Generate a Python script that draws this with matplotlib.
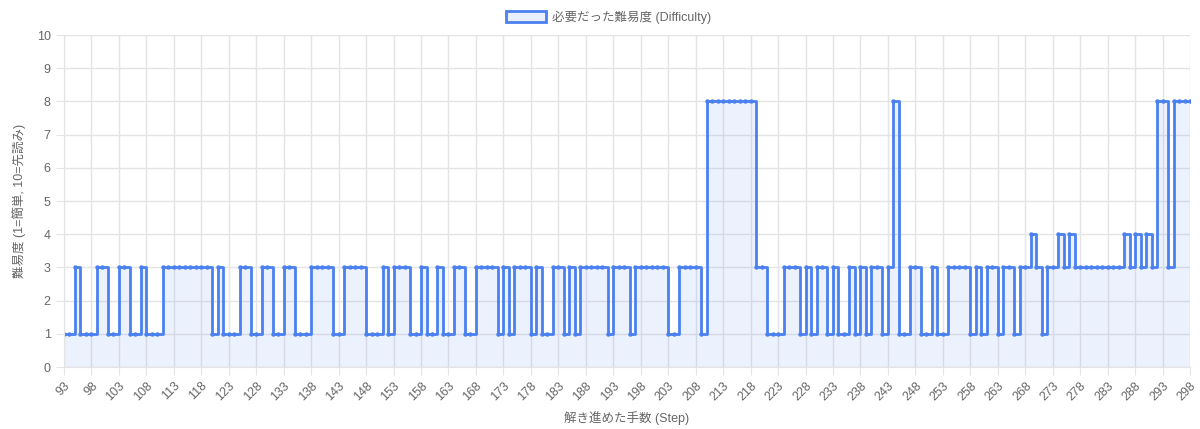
"""Stepped difficulty chart: required difficulty per solving step."""
import matplotlib

matplotlib.use("Agg")
import matplotlib.pyplot as plt
import numpy as np
from matplotlib.patches import Patch

# Latin glyphs in an Arial-like face, Japanese falls back to Noto CJK.
plt.rcParams["font.family"] = ["Liberation Sans", "Noto Sans CJK JP", "DejaVu Sans"]

# --------------------------------------------------------------------------- #
# Data
# --------------------------------------------------------------------------- #
first_step = 93
difficulty = [
    1, 1, 3, 1, 1, 1, 3, 3, 1, 1, 3, 3, 1, 1, 3, 1, 1, 1,  # 93-110
    3, 3, 3, 3, 3, 3, 3, 3, 3,  # 111-119
    1, 3, 1, 1, 1, 3, 3, 1, 1, 3, 3, 1, 1, 3, 3, 1, 1, 1,  # 120-137
    3, 3, 3, 3, 1, 1, 3, 3, 3, 3, 1, 1, 1, 3, 1, 3, 3, 3,  # 138-155
    1, 1, 3, 1, 1, 3, 1, 1, 3, 3, 1, 1, 3, 3, 3, 3, 1, 3,  # 156-173
    1, 3, 3, 3, 1, 3, 1, 1, 3, 3, 1, 3, 1, 3, 3, 3, 3, 3,  # 174-191
    1, 3, 3, 3, 1, 3, 3, 3, 3, 3, 3, 1, 1, 3, 3, 3, 3, 1,  # 192-209
    8, 8, 8, 8, 8, 8, 8, 8, 8,  # 210-218
    3, 3, 1, 1, 1, 3, 3, 3, 1, 3, 1, 3, 3, 1, 3, 1, 1, 3,  # 219-236
    1, 3, 1, 3, 3, 1, 3, 8, 1, 1, 3, 3, 1, 1, 3, 1, 1, 3,  # 237-254
    3, 3, 3, 1, 3, 1, 3, 3, 1, 3, 3, 1, 3, 3, 4, 3, 1, 3,  # 255-272
    3, 4, 3, 4, 3, 3, 3, 3, 3, 3, 3, 3, 3, 4, 3, 4, 3, 4,  # 273-290
    3, 8, 8, 3, 8, 8, 8, 8,  # 291-298
]
steps = np.arange(first_step, first_step + len(difficulty))
y_ticks = list(range(0, 11))
x_ticks = list(range(93, 299, 5))

LINE = "#4a80f0"
FILL = (0.29, 0.5, 0.94, 0.1)
GRID = "#e4e4e4"
TEXT = "#666666"

# --------------------------------------------------------------------------- #
# Plot
# --------------------------------------------------------------------------- #
fig = plt.figure(figsize=(12, 4.29), dpi=100)
ax = fig.add_axes([0.0533, 0.1445, 0.9384, 0.7739])

ax.fill_between(steps, difficulty, 0, step="post", color=FILL, linewidth=0)
ax.plot(steps, difficulty, drawstyle="steps-post", color=LINE, linewidth=2,
        marker="o", markersize=3.2, markerfacecolor=LINE, markeredgewidth=0)

ax.set_xlim(steps[0], steps[-1])
ax.set_ylim(0, 10)
ax.set_yticks(y_ticks)
ax.set_xticks(x_ticks)
ax.set_xticklabels([str(t) for t in x_ticks], rotation=45, ha="right",
                   rotation_mode="anchor")
ax.tick_params(axis="both", colors=GRID, labelcolor=TEXT, labelsize=9, length=6)
ax.tick_params(axis="x", pad=3)
ax.grid(True, color=GRID, linewidth=1)
ax.set_axisbelow(True)
for side in ("top", "right"):
    ax.spines[side].set_visible(False)
for side in ("left", "bottom"):
    ax.spines[side].set_color(GRID)

ax.set_xlabel("解き進めた手数 (Step)", color=TEXT, fontsize=9, labelpad=6)
ax.set_ylabel("難易度 (1=簡単, 10=先読み)", color=TEXT, fontsize=9, labelpad=8)

handle = Patch(facecolor=(0.29, 0.5, 0.94, 0.12), edgecolor=LINE, linewidth=2)
fig.legend([handle], ["必要だった難易度 (Difficulty)"], loc="center",
           bbox_to_anchor=(0.507, 0.96), frameon=False, fontsize=9,
           labelcolor=TEXT, handlelength=3.2, handleheight=1.0, handletextpad=0.5)

fig.savefig("out.png", dpi=100)
plt.close(fig)
